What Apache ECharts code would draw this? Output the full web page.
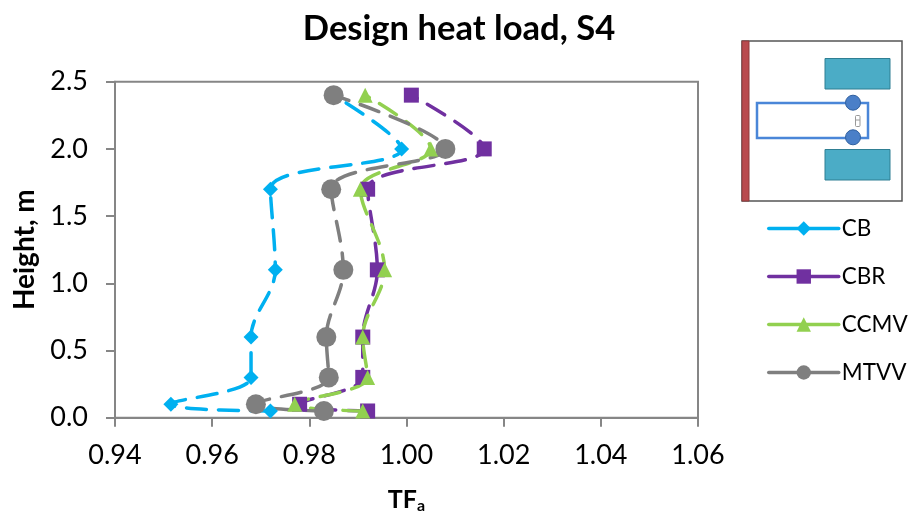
<!DOCTYPE html>
<html><head><meta charset="utf-8">
<style>html,body{margin:0;padding:0;background:#fff}#c{width:915px;height:519px}</style>
<script src="https://cdn.jsdelivr.net/npm/echarts@6/dist/echarts.min.js"></script>
</head><body><div id="c"></div>
<script>
const heights = [0.05, 0.1, 0.3, 0.6, 1.1, 1.7, 2.0, 2.4];
const cb   = [0.972, 0.9515, 0.968, 0.968, 0.973, 0.972, 0.999, 0.985];
const cbr  = [0.992, 0.978, 0.991, 0.991, 0.994, 0.992, 1.016, 1.001];
const ccmv = [0.991, 0.977, 0.992, 0.991, 0.9955, 0.9905, 1.005, 0.9915];
const mtvv = [0.983, 0.969, 0.984, 0.9835, 0.987, 0.9845, 1.008, 0.985];
const FONT = 'Lato';
function pts(v){return v.map((x,i)=>[x,heights[i]]);}
function ser(name,data,color,symbol,size){
  return {name,type:'line',data:pts(data),smooth:0.35,symbol,symbolSize:size,showSymbol:true,
    lineStyle:{color,width:3.5,type:[20,12],cap:'round'},itemStyle:{color},emphasis:{disabled:true},z:2};
}
const chart = echarts.init(document.getElementById('c'));
chart.setOption({
  animation:false,backgroundColor:'#fff',
  title:{text:'Design heat load, S4',left:454,top:6,textAlign:'center',
    textStyle:{fontFamily:FONT,fontSize:34.6,fontWeight:'bold',color:'#000'}},
  grid:{left:115,top:81.7,width:583,height:336,outerBoundsMode:'none',show:true,borderColor:'#868686',borderWidth:2,backgroundColor:'transparent'},
  xAxis:{type:'value',min:0.94,max:1.06,interval:0.02,
    name:'{b|TF}{s|a}',nameLocation:'middle',nameGap:68,
    nameTextStyle:{rich:{b:{fontFamily:FONT,fontSize:25,fontWeight:'bold',color:'#000'},s:{fontFamily:FONT,fontSize:16,fontWeight:'bold',color:'#000',verticalAlign:'bottom',padding:[12,0,0,0]}}},
    axisLine:{onZero:false,lineStyle:{color:'#868686',width:2}},
    axisTick:{length:9,lineStyle:{color:'#868686',width:2}},
    splitLine:{show:false},
    axisLabel:{formatter:v=>v.toFixed(2),margin:24,fontFamily:FONT,fontSize:27,color:'#000'}},
  yAxis:{type:'value',min:0,max:2.5,interval:0.5,
    name:'Height, m',nameLocation:'middle',nameGap:76,nameRotate:90,
    nameTextStyle:{fontFamily:FONT,fontSize:28,fontWeight:'bold',color:'#000'},
    axisLine:{onZero:false,show:true,lineStyle:{color:'#868686',width:2}},
    axisTick:{show:true,length:9,lineStyle:{color:'#868686',width:2}},
    splitLine:{show:false},
    axisLabel:{formatter:v=>v.toFixed(1),margin:27,fontFamily:FONT,fontSize:27,color:'#000'}},
  legend:{orient:'vertical',left:762,top:212,itemWidth:70,itemHeight:18,itemGap:25,
    lineStyle:{type:'solid',cap:'round',width:3.5},
    textStyle:{fontFamily:FONT,fontSize:22.5,color:'#000',padding:[0,0,0,-2]},
    data:['CB','CBR','CCMV','MTVV']},
  series:[
    ser('CB',cb,'#00b0f0','diamond',15),
    ser('CBR',cbr,'#7030a0','rect',15),
    ser('CCMV',ccmv,'#92d050','triangle',15),
    ser('MTVV',mtvv,'#7f7f7f','circle',20)
  ],
  graphic:[
    {type:'rect',shape:{x:742,y:41,width:160,height:160},style:{fill:'#fff',stroke:'#555',lineWidth:1.5}},
    {type:'rect',shape:{x:742,y:41,width:7,height:160},style:{fill:'#b94a4e',stroke:'#8f3a3d',lineWidth:1}},
    {type:'rect',shape:{x:825,y:58.5,width:65,height:30.5},style:{fill:'#4bacc6',stroke:'#2f7f93',lineWidth:1}},
    {type:'rect',shape:{x:825,y:149.5,width:65,height:30.5},style:{fill:'#4bacc6',stroke:'#2f7f93',lineWidth:1}},
    {type:'rect',shape:{x:757,y:103,width:111,height:35},style:{fill:'#fff',stroke:'#4a86d8',lineWidth:2.5}},
    {type:'circle',shape:{cx:853,cy:102.7,r:7.5},style:{fill:'#4a7fc8',stroke:'#2f5f9f',lineWidth:1}},
    {type:'circle',shape:{cx:853,cy:137.3,r:7.5},style:{fill:'#4a7fc8',stroke:'#2f5f9f',lineWidth:1}},
    {type:'rect',shape:{x:855.5,y:115.5,width:4.5,height:11,r:1},style:{fill:'#fff',stroke:'#999',lineWidth:1}},
    {type:'line',shape:{x1:855.5,y1:120,x2:860,y2:120},style:{stroke:'#999',lineWidth:1}}
  ]
});
</script></body></html>
